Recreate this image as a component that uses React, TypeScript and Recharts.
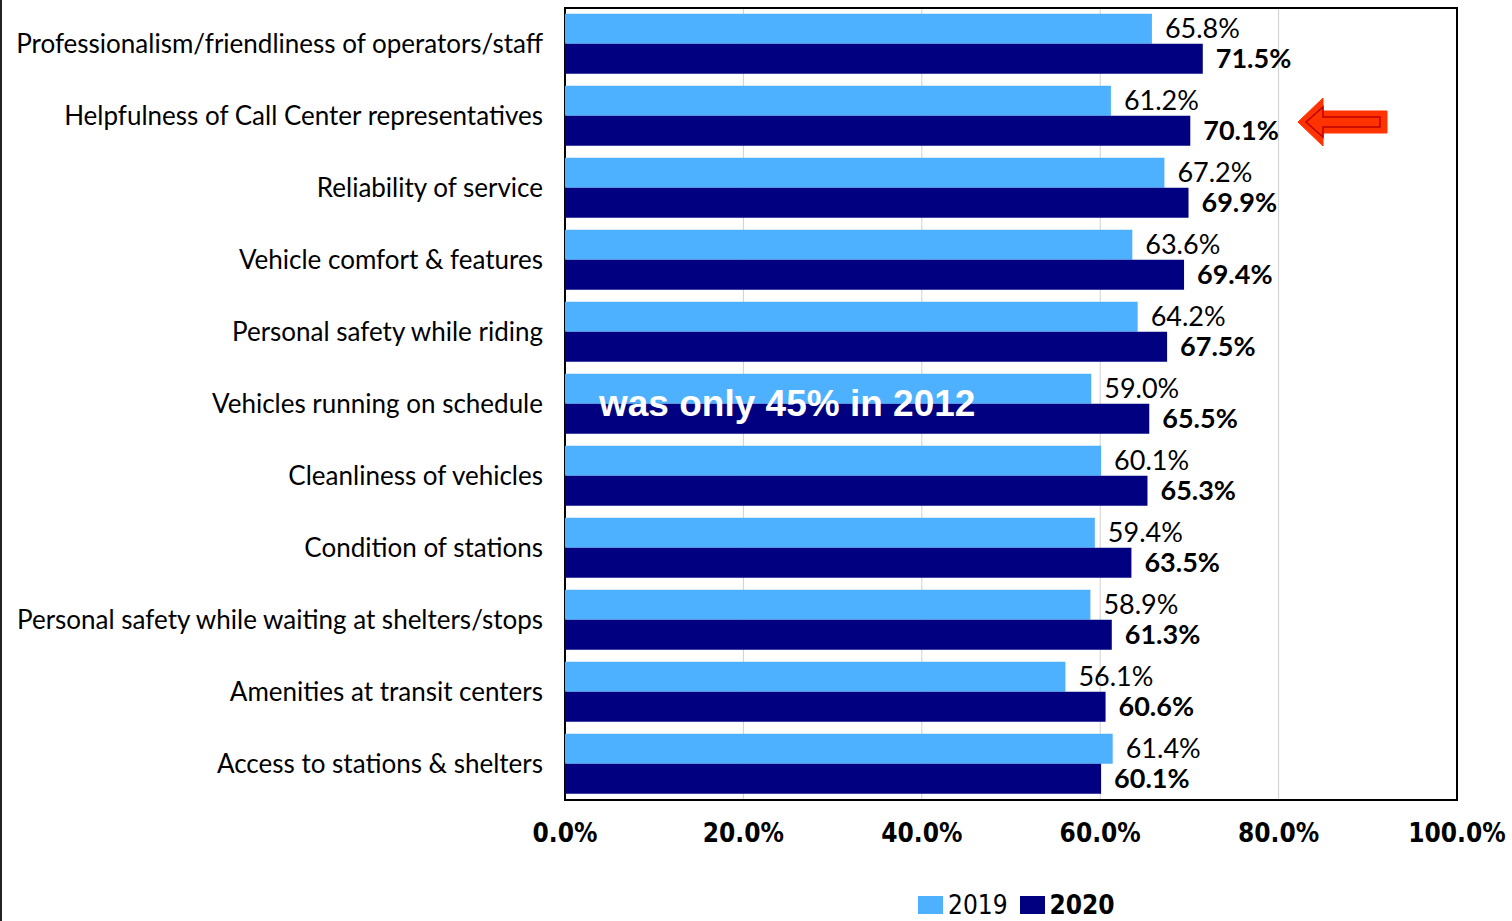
import React from "react";
import {
  BarChart,
  Bar,
  XAxis,
  YAxis,
  CartesianGrid,
  LabelList,
  Legend,
  ReferenceArea,
} from "recharts";

const categories = [
  "Professionalism/friendliness of operators/staff",
  "Helpfulness of Call Center representatives",
  "Reliability of service",
  "Vehicle comfort & features",
  "Personal safety while riding",
  "Vehicles running on schedule",
  "Cleanliness of vehicles",
  "Condition of stations",
  "Personal safety while waiting at shelters/stops",
  "Amenities at transit centers",
  "Access to stations & shelters",
];

const values2019 = [65.8, 61.2, 67.2, 63.6, 64.2, 59.0, 60.1, 59.4, 58.9, 56.1, 61.4];
const values2020 = [71.5, 70.1, 69.9, 69.4, 67.5, 65.5, 65.3, 63.5, 61.3, 60.6, 60.1];
const xTicks = [0, 20, 40, 60, 80, 100];

const C2019 = "#4DB1FF";
const C2020 = "#000080";
const FONT = "Lato, 'Open Sans', sans-serif";
const NARROW = "'Liberation Sans Narrow', 'DejaVu Sans Condensed', sans-serif";

const data = categories.map((name, i) => ({
  name,
  y2019: values2019[i],
  y2020: values2020[i],
}));

const fmt = (v: number) => `${v.toFixed(1)}%`;

function LegendContent() {
  const item = (color: string, label: string, bold: boolean) => (
    <span style={{ display: "inline-flex", alignItems: "center", marginRight: 12 }}>
      <span style={{ width: 25, height: 18, background: color, display: "inline-block", marginRight: 5 }} />
      <span style={{ fontFamily: NARROW, fontSize: 26, lineHeight: "28px", fontWeight: bold ? 700 : 400, color: "#000" }}>
        {label}
      </span>
    </span>
  );
  return (
    <div style={{ textAlign: "left", whiteSpace: "nowrap" }}>
      {item(C2019, "2019", false)}
      {item(C2020, "2020", true)}
    </div>
  );
}

export default function App() {
  return (
    <div
      style={{
        position: "absolute",
        left: 0,
        top: 0,
        width: 1512,
        height: 921,
        background: "#fff",
        borderLeft: "2px solid #222",
        boxSizing: "border-box",
        overflow: "hidden",
      }}
    >
      <BarChart
        width={1510}
        height={921}
        data={data}
        layout="vertical"
        barCategoryGap="8%"
        barGap={0}
        margin={{ top: 8, right: 55, bottom: 0, left: 0 }}
      >
        <CartesianGrid horizontal={false} stroke="#D0D0D0" />
        <XAxis
          type="number"
          domain={[0, 100]}
          ticks={xTicks}
          tickFormatter={fmt}
          axisLine={false}
          tickLine={false}
          tickSize={0}
          tickMargin={24}
          height={93}
          tick={{ fontFamily: NARROW, fontSize: 26, fontWeight: 700, fill: "#000" }}
        />
        <YAxis
          type="category"
          dataKey="name"
          width={563}
          axisLine={false}
          tickLine={false}
          tickSize={0}
          tickMargin={22}
          interval={0}
          tick={{ fontFamily: FONT, fontSize: 26, fill: "#000" }}
        />
        <Bar dataKey="y2019" name="2019" fill={C2019} isAnimationActive={false}>
          <LabelList
            dataKey="y2019"
            position="right"
            offset={13}
            formatter={(v: number) => fmt(v)}
            style={{ fontFamily: FONT, fontSize: 27, fill: "#000" }}
          />
        </Bar>
        <Bar dataKey="y2020" name="2020" fill={C2020} isAnimationActive={false}>
          <LabelList
            dataKey="y2020"
            position="right"
            offset={13}
            formatter={(v: number) => fmt(v)}
            style={{ fontFamily: FONT, fontSize: 27, fontWeight: 700, fill: "#000" }}
          />
        </Bar>
        <ReferenceArea
          x1={0}
          x2={100}
          fill="none"
          stroke="#000"
          strokeWidth={2}
          ifOverflow="visible"
        />
        <Legend
          verticalAlign="bottom"
          content={<LegendContent />}
          wrapperStyle={{ top: 891, left: 916, width: 300 }}
        />
      </BarChart>
      <div
        style={{
          position: "absolute",
          left: 597,
          top: 383,
          color: "#fff",
          fontFamily: "'Liberation Sans', Arial, sans-serif",
          fontWeight: 700,
          fontSize: 37,
          whiteSpace: "nowrap",
        }}
      >
        was only 45% in 2012
      </div>
      <svg
        style={{ position: "absolute", left: 1290, top: 94 }}
        width={100}
        height={56}
      >
        <polygon
          points="6,28 31,4 31,17 95,17 95,39 31,39 31,52"
          fill="#FF3300"
          stroke="#FF3300"
          strokeWidth={1}
        />
        <polygon
          points="14,28 31,13 31,23 88,23 88,33 31,33 31,43"
          fill="none"
          stroke="#C00000"
          strokeWidth={1.5}
        />
      </svg>
    </div>
  );
}
